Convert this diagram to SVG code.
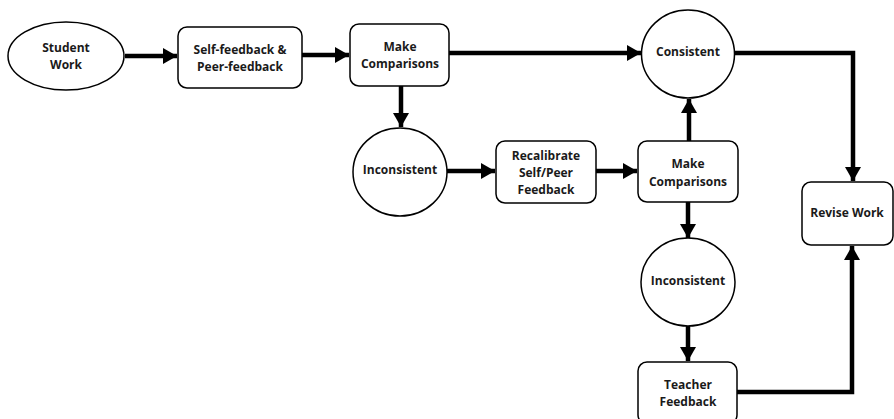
<svg xmlns="http://www.w3.org/2000/svg" width="894" height="419" viewBox="0 0 894 419">
<style>
.n{fill:#fff;stroke:#000;stroke-width:1.5}
.t{font-family:"Open Sans","Liberation Sans",sans-serif;font-weight:bold;font-size:12px;text-anchor:middle;fill:#1a1a1a}
.c{fill:none;stroke:#000;stroke-width:4.5;stroke-linejoin:miter}
</style>
<defs>
<marker id="ah" markerUnits="userSpaceOnUse" markerWidth="15" markerHeight="16" refX="14" refY="8" orient="auto">
<path d="M0,0 L14,8 L0,16 Z" fill="#000"/>
</marker>
</defs>
<g id="connectors">
<path class="c" d="M125,56 H177" marker-end="url(#ah)"/>
<path class="c" d="M302,55 H349" marker-end="url(#ah)"/>
<path class="c" d="M401,86 V127" marker-end="url(#ah)"/>
<path class="c" d="M449,53 H641" marker-end="url(#ah)"/>
<path class="c" d="M735,53 H853 V181" marker-end="url(#ah)"/>
<path class="c" d="M447,171 H495" marker-end="url(#ah)"/>
<path class="c" d="M596,171 H637" marker-end="url(#ah)"/>
<path class="c" d="M689,141 V99" marker-end="url(#ah)"/>
<path class="c" d="M688,202 V238" marker-end="url(#ah)"/>
<path class="c" d="M688,326 V361" marker-end="url(#ah)"/>
<path class="c" d="M737,392 H852 V246" marker-end="url(#ah)"/>
</g>
<g id="student-work">
<ellipse class="n" cx="66" cy="56" rx="58" ry="34"/>
<text class="t" x="66" y="52">Student</text>
<text class="t" x="66" y="69">Work</text>
</g>
<g id="self-peer-feedback">
<rect class="n" x="178" y="27" width="124" height="61" rx="9"/>
<text class="t" x="240" y="54">Self-feedback &amp;</text>
<text class="t" x="240" y="71">Peer-feedback</text>
</g>
<g id="make-comparisons-1">
<rect class="n" x="350" y="24" width="99" height="62" rx="9"/>
<text class="t" x="400" y="51">Make</text>
<text class="t" x="400" y="68">Comparisons</text>
</g>
<g id="consistent">
<ellipse class="n" cx="688" cy="54" rx="46.5" ry="44"/>
<text class="t" x="688" y="56">Consistent</text>
</g>
<g id="inconsistent-1">
<ellipse class="n" cx="400" cy="172" rx="47" ry="44"/>
<text class="t" x="400" y="174">Inconsistent</text>
</g>
<g id="recalibrate">
<rect class="n" x="496" y="141" width="100" height="62" rx="9"/>
<text class="t" x="546" y="160">Recalibrate</text>
<text class="t" x="546" y="177">Self/Peer</text>
<text class="t" x="546" y="194">Feedback</text>
</g>
<g id="make-comparisons-2">
<rect class="n" x="638" y="141" width="100" height="61" rx="9"/>
<text class="t" x="688" y="168">Make</text>
<text class="t" x="688" y="186">Comparisons</text>
</g>
<g id="inconsistent-2">
<ellipse class="n" cx="688" cy="282" rx="47" ry="44"/>
<text class="t" x="688" y="285">Inconsistent</text>
</g>
<g id="teacher-feedback">
<rect class="n" x="638" y="362" width="99" height="62" rx="9"/>
<text class="t" x="688" y="389">Teacher</text>
<text class="t" x="688" y="406">Feedback</text>
</g>
<g id="revise-work">
<rect class="n" x="802" y="182" width="91" height="63" rx="9"/>
<text class="t" x="847" y="217">Revise Work</text>
</g>
</svg>
